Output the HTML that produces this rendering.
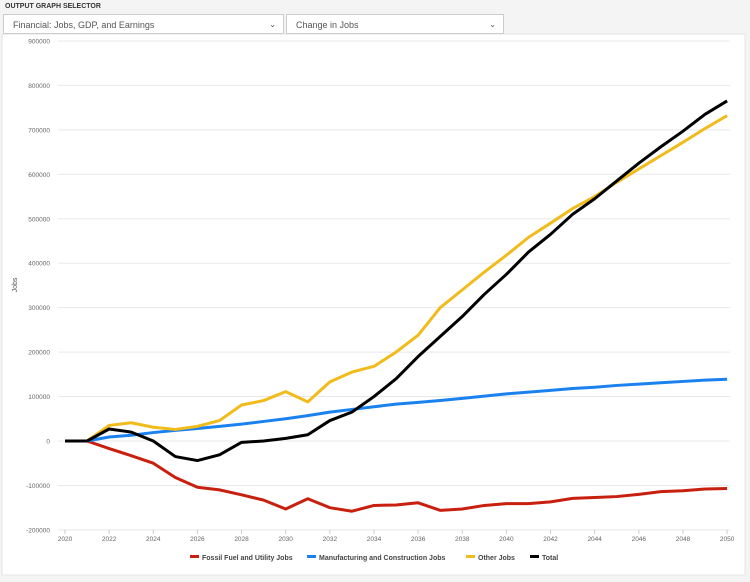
<!DOCTYPE html>
<html><head><style>
body{margin:0;background:#f4f4f4;font-family:"Liberation Sans",sans-serif;}
.t{position:absolute;left:5px;top:3px;font-size:7px;font-weight:bold;color:#333;}
.s{position:absolute;top:14px;height:20px;background:#fff;border:1px solid #ccc;font-size:9px;color:#555;line-height:20px;padding-left:9px;box-sizing:border-box;}
.s span{position:absolute;right:7px;top:0;font-size:8px;}
</style></head><body>
<div style="position:relative;width:750px;height:582px;overflow:hidden">
<div class="t">OUTPUT GRAPH SELECTOR</div>
<svg style="position:absolute;left:0;top:0" width="750" height="582">
<rect x="2" y="34" width="743" height="541" fill="#fff" stroke="#e4e4e4"/>
<g id="g"></g>
</svg>
<div class="s" style="left:3px;width:281px;">Financial: Jobs, GDP, and Earnings<span>⌄</span></div>
<div class="s" style="left:286px;width:218px;">Change in Jobs<span>⌄</span></div>
</div>
<script>
const ns="http://www.w3.org/2000/svg",g=document.getElementById("g");
const X=y=>65+(y-2020)*22.07,Y=v=>441-v*44.45/100000;
function el(n,a,t){const e=document.createElementNS(ns,n);for(const k in a)e.setAttribute(k,a[k]);if(t!=null)e.textContent=t;g.appendChild(e);return e;}
for(let v=-200000;v<=900000;v+=100000){el("line",{x1:58,x2:730,y1:Y(v),y2:Y(v),stroke:"#e8e8e8","stroke-width":1});
el("text",{x:50,y:Y(v)+2.5,"text-anchor":"end","font-size":6.5,fill:"#666","font-family":"Liberation Sans"},v);}
for(let y=2020;y<=2050;y+=2){el("text",{x:X(y),y:541,"text-anchor":"middle","font-size":6.5,fill:"#666","font-family":"Liberation Sans"},y);el("line",{x1:X(y),x2:X(y),y1:530,y2:534,stroke:"#ccc"});}
el("text",{x:17,y:285,"text-anchor":"middle","font-size":7,fill:"#555",transform:"rotate(-90 17 285)","font-family":"Liberation Sans"},"Jobs");
const D={
"#c8200e":[0,0,-17,-33,-50,-82,-104,-110,-121,-133,-153,-130,-150,-158,-145,-144,-139,-156,-153,-145,-141,-141,-137,-129,-127,-125,-120,-114,-112,-108,-107],
"#1a82ef":[0,0,9,13,19,24,28,33,38,44,50,57,65,71,77,83,87,91,96,101,106,110,114,118,121,125,128,131,134,137,139],
"#f2bb1c":[0,0,35,41,31,26,33,46,81,91,111,88,133,155,168,200,238,300,340,380,418,458,490,523,550,582,612,642,672,703,732],
"#000":[0,0,27,20,0,-35,-44,-31,-3,0,6,14,46,65,100,140,190,235,280,330,375,425,465,510,545,585,625,662,697,735,765]};
for(const c in D){el("polyline",{points:D[c].map((v,i)=>X(2020+i)+","+Y(v*1000)).join(" "),fill:"none",stroke:c,"stroke-width":3,"stroke-linejoin":"round"});}
const L=[["#c8200e","Fossil Fuel and Utility Jobs",190],["#1a82ef","Manufacturing and Construction Jobs",307],["#f2bb1c","Other Jobs",466],["#000","Total",530]];
for(const [c,t,x] of L){el("rect",{x:x,y:555,width:9,height:3,fill:c});el("text",{x:x+12,y:560,"font-size":7,"font-weight":"bold",fill:"#444","font-family":"Liberation Sans"},t);}
</script>
</body></html>
